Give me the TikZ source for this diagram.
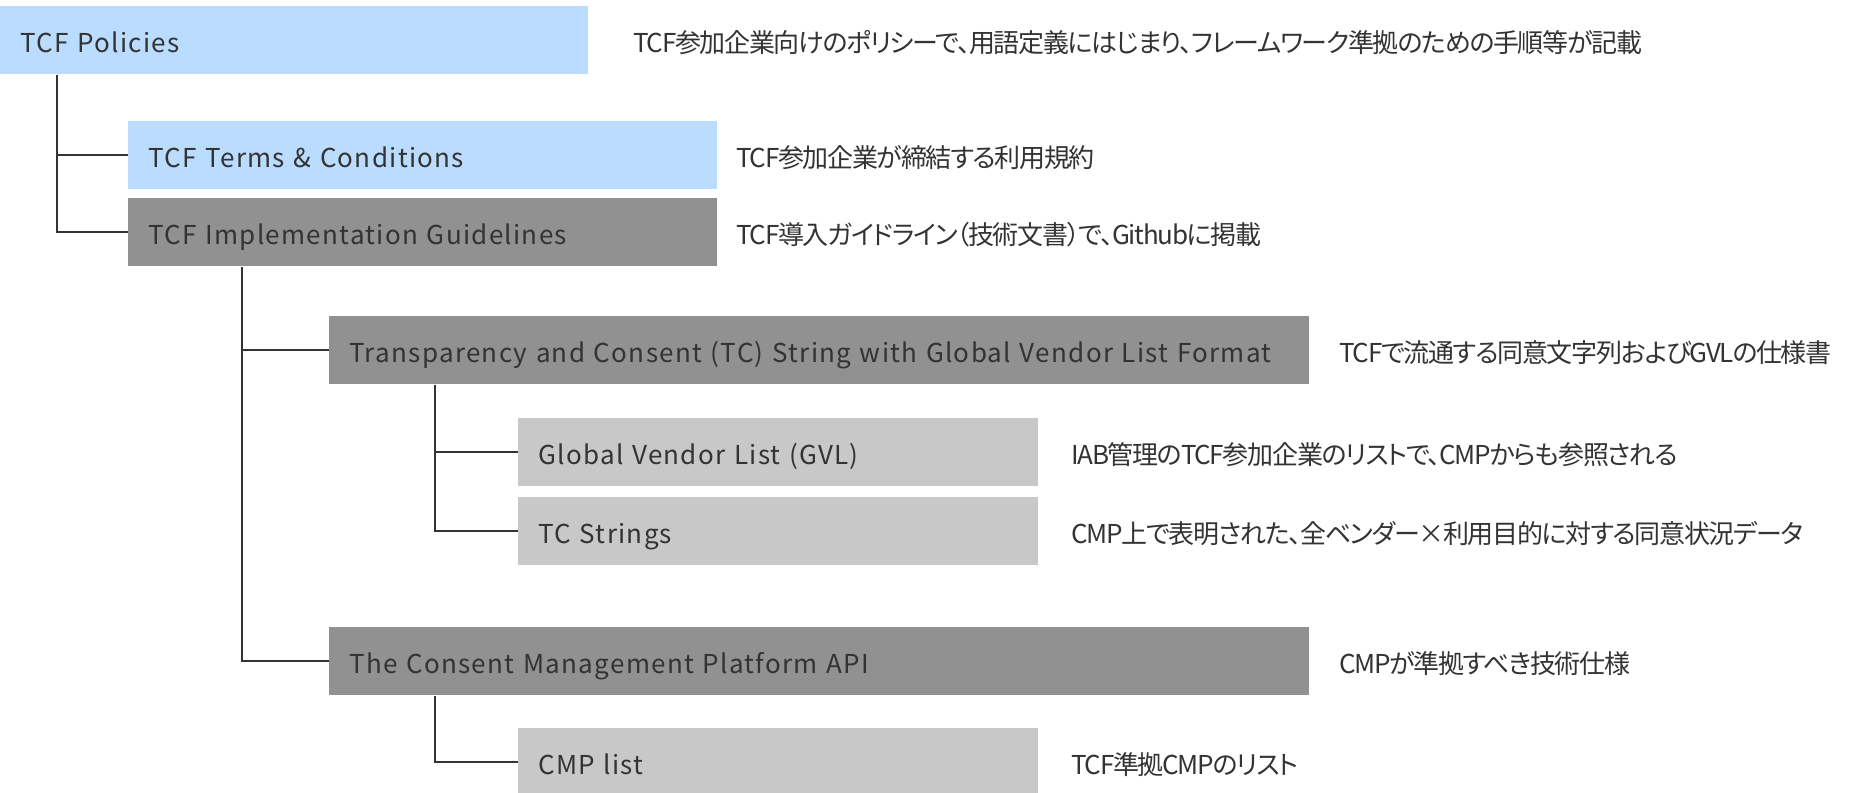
\documentclass[tikz,border=0pt]{standalone}
\usepackage{fontspec}
\setmainfont{Noto Sans CJK JP}[RawFeature=+palt]
\newfontfamily\labelfont{Noto Sans CJK JP}[LetterSpace=5]
\newfontfamily\notefont{Noto Sans CJK JP}[RawFeature=+palt, LetterSpace=-5]
\usepackage{tikz}
\usetikzlibrary{positioning}

\definecolor{ink}{HTML}{333333}
\definecolor{tcfblue}{HTML}{BADCFE}
\definecolor{darkgray}{HTML}{919191}
\definecolor{lightgray}{HTML}{C8C8C8}

\begin{document}
\begin{tikzpicture}[
        x=0.5pt, y=-0.5pt,
        tbox/.style={rectangle, anchor=north west, inner xsep=10pt, inner ysep=0pt, minimum height=34pt, text width=#1, align=left, text=ink, text height=12pt, text depth=0.3pt, font=\labelfont\fontsize{13}{15}\selectfont},
        note/.style={anchor=west, inner sep=0pt, text=ink, text height=12pt, text depth=0.3pt, font=\notefont\fontsize{13}{15}\selectfont},
        link/.style={draw=ink, line width=1pt}
    ]
        \useasboundingbox (0,0) rectangle (1849,793);

        % boxes
        \node[tbox=274pt, fill=tcfblue] (policies) at (0,6) {TCF Policies};
        \node[tbox=274.5pt, fill=tcfblue] (terms) at (128,121) {TCF Terms \& Conditions};
        \node[tbox=274.5pt, fill=darkgray] (guide) at (128,198) {TCF Implementation Guidelines};
        \node[tbox=470pt, fill=darkgray] (tcstring) at (329,316) {Transparency and Consent (TC) String with Global Vendor List Format};
        \node[tbox=240pt, fill=lightgray] (gvl) at (518,418) {Global Vendor List (GVL)};
        \node[tbox=240pt, fill=lightgray] (tcstrings) at (518,497) {TC Strings};
        \node[tbox=470pt, fill=darkgray] (cmpapi) at (329,627) {The Consent Management Platform API};
        \node[tbox=240pt, fill=lightgray] (cmplist) at (518,728) {CMP list};

        % descriptions
        \node[note, right=22pt of policies] (policiesnote) {TCF参加企業向けのポリシーで、用語定義にはじまり、フレームワーク準拠のための手順等が記載};
        \node[note, right=9pt of terms] (termsnote) {TCF参加企業が締結する利用規約};
        \node[note, right=9pt of guide] (guidenote) {TCF導入ガイドライン（技術文書）で、Githubに掲載};
        \node[note, right=14.5pt of tcstring] (tcstringnote) {TCFで流通する同意文字列およびGVLの仕様書};
        \node[note, right=16pt of gvl] (gvlnote) {IAB管理のTCF参加企業のリストで、CMPからも参照される};
        \node[note, right=16pt of tcstrings] (tcstringsnote) {CMP上で表明された、全ベンダー×利用目的に対する同意状況データ};
        \node[note, right=14.5pt of cmpapi] (cmpapinote) {CMPが準拠すべき技術仕様};
        \node[note, right=16pt of cmplist] (cmplistnote) {TCF準拠CMPのリスト};

        % tree lines
        \draw[link] ([xshift=28.5pt]policies.south west) |- (terms.west);
        \draw[link] ([xshift=28.5pt]policies.south west) |- (guide.west);
        \draw[link] ([xshift=57pt]guide.south west) |- (tcstring.west);
        \draw[link] ([xshift=57pt]guide.south west) |- (cmpapi.west);
        \draw[link] ([xshift=53pt]tcstring.south west) |- (gvl.west);
        \draw[link] ([xshift=53pt]tcstring.south west) |- (tcstrings.west);
        \draw[link] ([xshift=53pt]cmpapi.south west) |- (cmplist.west);
    \end{tikzpicture}
\end{document}
